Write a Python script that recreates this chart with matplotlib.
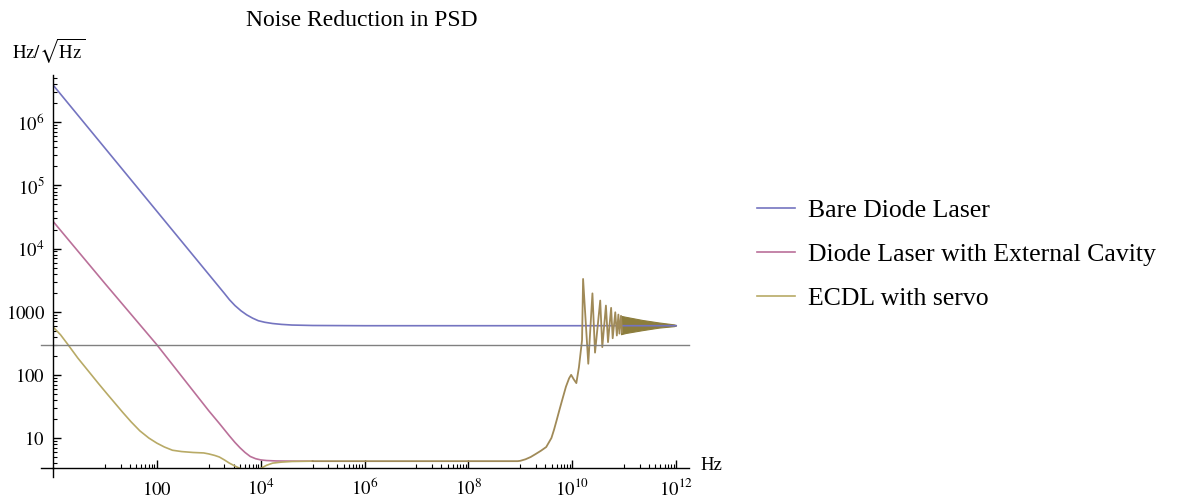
import numpy as np
import matplotlib
matplotlib.use("Agg")
import matplotlib.pyplot as plt
from matplotlib.ticker import FixedLocator, NullFormatter

plt.rcParams['font.family'] = ['Liberation Serif', 'DejaVu Serif']
plt.rcParams['mathtext.fontset'] = 'stix'

# values (Hz, Hz/sqrt(Hz))
bare_f = [1, 10, 100, 1000, 1500, 2000, 2500, 3200, 4200, 5400, 7000, 9000,
          1.2e4, 1.7e4, 2.5e4, 4e4, 1e5, 1e6, 1e12]
bare_v = [3.9e6, 3.9e5, 3.9e4, 3900, 2600, 1950, 1550, 1250, 1030, 890, 790, 720,
          680, 650, 630, 615, 605, 600, 600]

cavity_f = [1, 10, 100, 1000, 1600, 2500, 3200, 4000, 5000, 6300, 8000, 1e4,
            1.3e4, 2e4, 5e4, 1e5]
cavity_v = [2.7e4, 2.8e3, 300, 27, 17, 10.8, 8.5, 7.0, 5.9, 5.1, 4.7, 4.5,
            4.4, 4.33, 4.3, 4.3]

servo_f = [1, 1.4, 1.95, 3, 5.1, 7.5, 11, 15, 22, 32, 47, 70, 100, 140, 200,
           300, 500, 800, 1000, 1300, 1600, 2000, 2500, 3200, 4000, 6000,
           1e4, 1.3e4, 1.7e4, 2.5e4, 4e4, 1e5]
servo_v = [575, 430, 300, 185, 108, 73, 50, 37, 25.5, 18, 13, 10, 8.3, 7.2, 6.4,
           6.1, 5.9, 5.8, 5.6, 5.3, 5.0, 4.5, 4.0, 3.6, 3.3, 3.0,
           3.3, 3.7, 4.0, 4.15, 4.25, 4.3]

# high-frequency part shared by cavity and servo curves (log10 of f)
hf_logf = [5, 8.95, 9.0, 9.1, 9.2, 9.3, 9.4, 9.5, 9.6, 9.65, 9.7, 9.75, 9.8,
           9.88, 9.94, 9.98, 10.03, 10.08, 10.13, 10.19,
           10.21, 10.31, 10.39, 10.44, 10.54, 10.58, 10.65, 10.69,
           10.75, 10.78, 10.83, 10.86, 10.89, 10.91, 10.94, 10.96]
hf_v = [4.3, 4.3, 4.35, 4.6, 5.0, 5.6, 6.3, 7.2, 10, 13.5, 19, 27, 38,
        65, 88, 100, 85, 74, 132, 355,
        3300, 150, 1950, 225, 1500, 275, 1250, 330,
        1150, 380, 980, 420, 900, 450, 860, 470]

# dense ringing, drawn as its envelope
env_logf = [10.94, 11.03, 11.35, 11.67, 11.96, 12.0]
env_hi = [860, 830, 740, 675, 630, 615]
env_lo = [440, 460, 510, 560, 590, 605]

ref_level = 300

labels = ["Bare Diode Laser", "Diode Laser with External Cavity", "ECDL with servo"]
c_blue = '#7474C0'
c_pink = '#BA7099'
c_khaki = '#B8AA66'
c_mix = '#A08A58'
c_dense = '#8C7D3C'

fig = plt.figure(figsize=(11.82, 5.03), dpi=100)
ax = fig.add_axes([53/1182, 1-468/503, 636/1182, 393/503])

l1, = ax.plot(bare_f, bare_v, color=c_blue, lw=1.2)
l2, = ax.plot(cavity_f, cavity_v, color=c_pink, lw=1.2)
l3, = ax.plot(servo_f, servo_v, color=c_khaki, lw=1.2)
ax.plot(10**np.array(hf_logf), hf_v, color=c_mix, lw=1.3)
ax.fill_between(10**np.array(env_logf), env_lo, env_hi, color=c_dense, lw=0.8,
                edgecolor=c_dense)

ax.set_xscale('log')
ax.set_yscale('log')
ax.set_xlim(1, 10**12.25)
ax.set_ylim(3.35, 5.6e6)

# gray reference line and axis overhangs
ax.plot([-0.019, 1], [ref_level, ref_level], color='#808080', lw=1, clip_on=False,
        transform=ax.get_yaxis_transform())
ax.plot([-0.019, 0], [0, 0], color='k', lw=1, clip_on=False, transform=ax.transAxes)
ax.plot([0, 0], [-0.023, 0], color='k', lw=1, clip_on=False, transform=ax.transAxes)

for s in ['top', 'right']:
    ax.spines[s].set_visible(False)
for s in ['left', 'bottom']:
    ax.spines[s].set_linewidth(1)

xmaj = [1e2, 1e4, 1e6, 1e8, 1e10, 1e12]
xlab = [r'$100$', r'$10^{4}$', r'$10^{6}$', r'$10^{8}$', r'$10^{10}$', r'$10^{12}$']
ymaj = [10, 100, 1000, 1e4, 1e5, 1e6]
ylab = [r'$10$', r'$100$', r'$1000$', r'$10^{4}$', r'$10^{5}$', r'$10^{6}$']
xmin_t = [k * 10**(2*m - 1) for m in range(1, 7) for k in range(1, 10)]
ymin_t = [k * 10**d for d in range(0, 7) for k in range(2, 10) if 3.35 < k * 10**d < 5.6e6]

ax.xaxis.set_major_locator(FixedLocator(xmaj))
ax.xaxis.set_minor_locator(FixedLocator(xmin_t))
ax.yaxis.set_major_locator(FixedLocator(ymaj))
ax.yaxis.set_minor_locator(FixedLocator(ymin_t))
ax.set_xticklabels(xlab)
ax.set_yticklabels(ylab)
ax.xaxis.set_minor_formatter(NullFormatter())
ax.yaxis.set_minor_formatter(NullFormatter())
ax.tick_params(which='major', direction='in', length=6, width=1, labelsize=13.5)
ax.tick_params(which='minor', direction='in', length=2.8, width=0.8)
ax.tick_params(axis='x', which='major', pad=19.5)
ax.tick_params(axis='y', which='major', pad=6)
for t in ax.get_xticklabels():
    t.set_verticalalignment('baseline')

fig.text(362/1182, 1-20/503, 'Noise Reduction in PSD', ha='center', va='center',
         fontsize=17)
fig.text(12/1182, 1-51/503, r'$\mathrm{Hz}/\sqrt{\mathrm{Hz}}$', ha='left',
         va='center', fontsize=13.5)
fig.text(700/1182, 1-466/503, 'Hz', ha='left', va='center', fontsize=13.5)

fig.legend([l1, l2, l3], labels, loc='upper left',
           bbox_to_anchor=(757/1182, 1-199/503), frameon=False, fontsize=18.5,
           handlelength=1.48, handletextpad=0.5, labelspacing=0.82,
           borderpad=0, borderaxespad=0)

fig.savefig('out.png', dpi=100)
